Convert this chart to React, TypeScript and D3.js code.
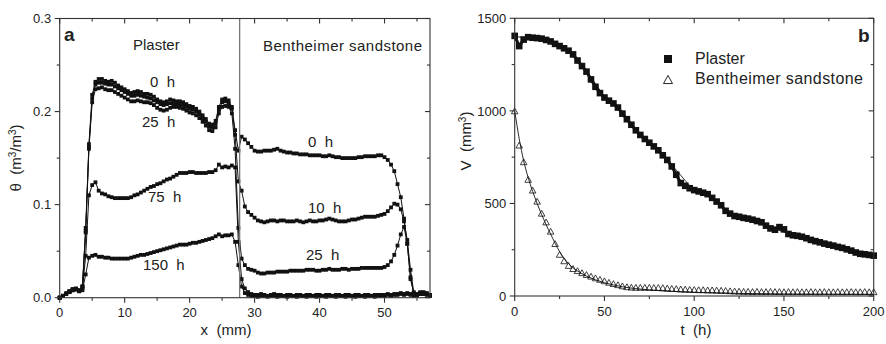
import React from 'react';
import * as d3 from 'd3';

// ---------- Panel a: moisture profiles θ(x) ----------
const X_MM = [
  0, 0.5, 1, 1.5, 2, 2.5, 3, 3.5, 4, 4.5,
  5, 5.5, 6, 6.5, 7, 7.5, 8, 8.5, 9, 9.5,
  10, 10.5, 11, 11.5, 12, 12.5, 13, 13.5, 14, 14.5,
  15, 15.5, 16, 16.5, 17, 17.5, 18, 18.5, 19, 19.5,
  20, 20.5, 21, 21.5, 22, 22.5, 23, 23.5, 24, 24.5,
  25, 25.5, 26, 26.5, 27, 27.5, 28, 28.5, 29, 29.5,
  30, 30.5, 31, 31.5, 32, 32.5, 33, 33.5, 34, 34.5,
  35, 35.5, 36, 36.5, 37, 37.5, 38, 38.5, 39, 39.5,
  40, 40.5, 41, 41.5, 42, 42.5, 43, 43.5, 44, 44.5,
  45, 45.5, 46, 46.5, 47, 47.5, 48, 48.5, 49, 49.5,
  50, 50.5, 51, 51.5, 52, 52.5, 53, 53.5, 54, 54.5,
  55, 55.5, 56, 56.5, 57,
];

const THETA_0H = [
  0.000, 0.002, 0.004, 0.006, 0.009, 0.009, 0.007, 0.012, 0.075, 0.165,
  0.218, 0.232, 0.235, 0.235, 0.233, 0.232, 0.233, 0.231, 0.228, 0.226,
  0.224, 0.222, 0.220, 0.221, 0.222, 0.221, 0.219, 0.219, 0.218, 0.216,
  0.213, 0.211, 0.210, 0.211, 0.213, 0.212, 0.211, 0.211, 0.210, 0.208,
  0.206, 0.205, 0.203, 0.200, 0.196, 0.192, 0.187, 0.186, 0.190, 0.205,
  0.213, 0.214, 0.212, 0.205, 0.180, 0.158, 0.173, 0.170, 0.166, 0.162,
  0.158, 0.157, 0.157, 0.158, 0.158, 0.158, 0.159, 0.160, 0.158, 0.157,
  0.156, 0.156, 0.155, 0.155, 0.154, 0.154, 0.154, 0.153, 0.153, 0.153,
  0.153, 0.152, 0.152, 0.153, 0.152, 0.151, 0.151, 0.150, 0.150, 0.150,
  0.150, 0.150, 0.151, 0.151, 0.152, 0.152, 0.152, 0.152, 0.153, 0.153,
  0.151, 0.148, 0.143, 0.136, 0.122, 0.108, 0.085, 0.058, 0.022, 0.004,
  0.003, 0.004, 0.005, 0.004, 0.002,
];

const THETA_10H = [
  0.000, 0.002, 0.004, 0.006, 0.008, 0.009, 0.008, 0.012, 0.072, 0.162,
  0.214, 0.229, 0.231, 0.231, 0.230, 0.229, 0.229, 0.227, 0.225, 0.223,
  0.221, 0.219, 0.217, 0.217, 0.218, 0.217, 0.216, 0.215, 0.214, 0.212,
  0.210, 0.208, 0.207, 0.208, 0.209, 0.209, 0.208, 0.208, 0.207, 0.205,
  0.203, 0.202, 0.200, 0.197, 0.193, 0.189, 0.184, 0.183, 0.187, 0.202,
  0.210, 0.211, 0.209, 0.203, 0.175, 0.125, 0.115, 0.098, 0.092, 0.089,
  0.086, 0.083, 0.082, 0.081, 0.082, 0.083, 0.083, 0.082, 0.083, 0.083,
  0.082, 0.082, 0.082, 0.083, 0.082, 0.081, 0.082, 0.083, 0.082, 0.082,
  0.083, 0.083, 0.084, 0.085, 0.084, 0.083, 0.082, 0.082, 0.082, 0.083,
  0.084, 0.084, 0.085, 0.086, 0.087, 0.087, 0.087, 0.087, 0.088, 0.089,
  0.090, 0.093, 0.097, 0.101, 0.100, 0.095, 0.082, 0.062, 0.030, 0.006,
  0.003, 0.004, 0.004, 0.005, 0.003,
];

const THETA_25H = [
  0.000, 0.002, 0.004, 0.007, 0.009, 0.009, 0.007, 0.012, 0.070, 0.160,
  0.210, 0.224, 0.225, 0.226, 0.224, 0.223, 0.223, 0.221, 0.219, 0.217,
  0.215, 0.213, 0.211, 0.211, 0.212, 0.211, 0.210, 0.210, 0.209, 0.207,
  0.204, 0.202, 0.201, 0.202, 0.204, 0.205, 0.205, 0.204, 0.203, 0.201,
  0.199, 0.198, 0.196, 0.193, 0.189, 0.185, 0.180, 0.179, 0.183, 0.198,
  0.205, 0.206, 0.205, 0.198, 0.160, 0.075, 0.042, 0.035, 0.031, 0.030,
  0.029, 0.027, 0.026, 0.026, 0.027, 0.027, 0.027, 0.028, 0.028, 0.028,
  0.028, 0.029, 0.029, 0.029, 0.029, 0.029, 0.030, 0.030, 0.030, 0.029,
  0.029, 0.030, 0.030, 0.031, 0.030, 0.030, 0.030, 0.031, 0.031, 0.030,
  0.031, 0.031, 0.031, 0.032, 0.032, 0.032, 0.032, 0.032, 0.032, 0.032,
  0.033, 0.035, 0.039, 0.046, 0.056, 0.068, 0.076, 0.058, 0.020, 0.005,
  0.004, 0.005, 0.006, 0.004, 0.003,
];

const THETA_75H = [
  0.000, 0.002, 0.005, 0.007, 0.009, 0.010, 0.008, 0.010, 0.045, 0.110,
  0.121, 0.124, 0.115, 0.112, 0.111, 0.109, 0.108, 0.107, 0.107, 0.107,
  0.107, 0.107, 0.108, 0.110, 0.111, 0.113, 0.115, 0.117, 0.119, 0.120,
  0.122, 0.123, 0.125, 0.127, 0.128, 0.130, 0.132, 0.134, 0.134, 0.134,
  0.135, 0.135, 0.134, 0.134, 0.134, 0.134, 0.135, 0.135, 0.137, 0.143,
  0.140, 0.141, 0.140, 0.142, 0.140, 0.060, 0.020, 0.010, 0.006, 0.004,
  0.003, 0.003, 0.004, 0.003, 0.002, 0.003, 0.004, 0.003, 0.003, 0.002,
  0.003, 0.003, 0.002, 0.003, 0.003, 0.002, 0.003, 0.003, 0.002, 0.003,
  0.003, 0.002, 0.003, 0.003, 0.002, 0.003, 0.003, 0.002, 0.003, 0.003,
  0.002, 0.003, 0.003, 0.002, 0.003, 0.003, 0.002, 0.003, 0.003, 0.003,
  0.003, 0.004, 0.003, 0.004, 0.004, 0.005, 0.004, 0.005, 0.004, 0.003,
  0.004, 0.006, 0.005, 0.004, 0.002,
];

const THETA_150H = [
  0.000, 0.002, 0.004, 0.006, 0.008, 0.009, 0.007, 0.008, 0.025, 0.043,
  0.045, 0.046, 0.044, 0.044, 0.043, 0.043, 0.042, 0.042, 0.042, 0.042,
  0.042, 0.042, 0.043, 0.044, 0.045, 0.046, 0.046, 0.047, 0.048, 0.049,
  0.050, 0.051, 0.052, 0.053, 0.054, 0.055, 0.056, 0.057, 0.057, 0.057,
  0.058, 0.059, 0.059, 0.060, 0.061, 0.062, 0.063, 0.064, 0.066, 0.068,
  0.066, 0.067, 0.067, 0.068, 0.060, 0.035, 0.012, 0.005, 0.003, 0.002,
  0.002, 0.001, 0.002, 0.002, 0.001, 0.002, 0.002, 0.001, 0.002, 0.002,
  0.001, 0.002, 0.002, 0.001, 0.002, 0.002, 0.001, 0.002, 0.002, 0.001,
  0.002, 0.002, 0.001, 0.002, 0.002, 0.001, 0.002, 0.002, 0.001, 0.002,
  0.002, 0.001, 0.002, 0.002, 0.001, 0.002, 0.002, 0.001, 0.002, 0.002,
  0.002, 0.003, 0.002, 0.003, 0.003, 0.004, 0.003, 0.004, 0.003, 0.002,
  0.003, 0.005, 0.004, 0.003, 0.002,
];

const PROFILES = [THETA_0H, THETA_10H, THETA_25H, THETA_75H, THETA_150H];
const INTERFACE_MM = 27.7;

const LEFT_X_TICKS = [0, 10, 20, 30, 40, 50];
const LEFT_X_MINOR = [5, 15, 25, 35, 45, 55];
const LEFT_Y_TICKS = [0, 0.1, 0.2, 0.3];
const LEFT_Y_LABELS = ['0.0', '0.1', '0.2', '0.3'];
const LEFT_Y_MINOR = [0.05, 0.15, 0.25];

const PROFILE_LABELS = ['0  h', '25  h', '75  h', '150  h', '0  h', '10  h', '25  h'];

// ---------- Panel b: volume V(t) ----------
const T_H = [
  0, 2.5, 5, 7.5, 10, 12.5, 15, 17.5, 20, 22.5,
  25, 27.5, 30, 32.5, 35, 37.5, 40, 42.5, 45, 47.5,
  50, 52.5, 55, 57.5, 60, 62.5, 65, 67.5, 70, 72.5,
  75, 77.5, 80, 82.5, 85, 87.5, 90, 92.5, 95, 97.5,
  100, 102.5, 105, 107.5, 110, 112.5, 115, 117.5, 120, 122.5,
  125, 127.5, 130, 132.5, 135, 137.5, 140, 142.5, 145, 147.5,
  150, 152.5, 155, 157.5, 160, 162.5, 165, 167.5, 170, 172.5,
  175, 177.5, 180, 182.5, 185, 187.5, 190, 192.5, 195, 197.5,
  200,
];

const V_PLASTER = [
  1405, 1350, 1385, 1398, 1395, 1393, 1390, 1383, 1375, 1362,
  1350, 1338, 1325, 1305, 1272, 1242, 1212, 1170, 1130, 1096,
  1072, 1055, 1040, 1018, 985, 955, 925, 895, 870, 848,
  828, 808, 787, 760, 735, 700, 655, 610, 595, 582,
  572, 565, 558, 550, 530, 510, 490, 460, 445, 432,
  428, 422, 418, 412, 405, 398, 380, 365, 358, 372,
  360, 335, 328, 325, 320, 312, 303, 296, 290, 283,
  277, 272, 265, 260, 252, 245, 235, 228, 225, 222,
  218,
];

const V_SAND = [
  1000, 815, 725, 630, 572, 512, 447, 400, 350, 283,
  225, 190, 165, 148, 137, 126, 116, 107, 98, 90,
  82, 74, 67, 61, 55, 50, 48, 47, 47, 47,
  47, 46, 46, 45, 43, 41, 40, 38, 37, 36,
  35, 34, 34, 33, 33, 32, 31, 30, 28, 27,
  26, 25, 25, 24, 25, 24, 24, 25, 24, 24,
  23, 24, 23, 24, 23, 23, 24, 23, 23, 24,
  23, 23, 24, 23, 23, 24, 23, 23, 24, 23,
  23,
];

const SAND_FIT_T = [0, 2.5, 5, 7.5, 10, 12.5, 15, 17.5, 20, 22.5, 25, 30, 35, 40, 50, 60, 75, 100, 125, 150, 175, 200];
const SAND_FIT_V = [1000, 850, 730, 640, 565, 500, 440, 385, 335, 285, 240, 175, 135, 108, 72, 50, 33, 20, 14, 11, 10, 9];

const PLASTER_FIT_T = [0, 10, 20, 30, 40, 50, 60, 70, 80, 90, 100, 110, 120, 130, 140, 150, 160, 170, 180, 190, 200];
const PLASTER_FIT_V = [1400, 1395, 1375, 1325, 1215, 1080, 985, 870, 790, 680, 575, 535, 445, 418, 385, 345, 320, 290, 265, 238, 220];

const RIGHT_X_TICKS = [0, 50, 100, 150, 200];
const RIGHT_X_MINOR = [25, 75, 125, 175];
const RIGHT_Y_TICKS = [0, 500, 1000, 1500];
const RIGHT_Y_MINOR = [250, 750, 1250];

const FONT = 'Liberation Sans, Arial, Helvetica, sans-serif';
const TXT = '#222';
const AX = '#333';

type Lin = d3.ScaleLinear<number, number>;

function Frame(props: {
  x: Lin; y: Lin; xt: number[]; xm: number[]; yt: number[]; ym: number[]; yl: string[];
}) {
  const { x, y, xt, xm, yt, ym, yl } = props;
  const [x0, x1] = x.range();
  const [y0, y1] = y.range();
  const MAJ = 5, MIN = 3;
  return (
    <g stroke={AX} strokeWidth={1.1} fill="none">
      <rect x={x0} y={y1} width={x1 - x0} height={y0 - y1} />
      {xt.map((v) => (
        <g key={'xt' + v}>
          <line x1={x(v)} x2={x(v)} y1={y0} y2={y0 + MAJ} />
          <line x1={x(v)} x2={x(v)} y1={y1} y2={y1 + MAJ} />
          <text x={x(v)} y={y0 + 19.5} textAnchor="middle" stroke="none" fill={TXT}
            fontSize={13} fontFamily={FONT}>{String(v)}</text>
        </g>
      ))}
      {xm.map((v) => (
        <g key={'xm' + v}>
          <line x1={x(v)} x2={x(v)} y1={y0} y2={y0 + MIN} />
          <line x1={x(v)} x2={x(v)} y1={y1} y2={y1 + MIN} />
        </g>
      ))}
      {yt.map((v, i) => (
        <g key={'yt' + v}>
          <line x1={x0} x2={x0 - MAJ} y1={y(v)} y2={y(v)} />
          <line x1={x1} x2={x1 - MAJ} y1={y(v)} y2={y(v)} />
          <text x={x0 - 8.5} y={y(v)} dy="0.36em" textAnchor="end" stroke="none" fill={TXT}
            fontSize={13} fontFamily={FONT}>{yl[i]}</text>
        </g>
      ))}
      {ym.map((v) => (
        <g key={'ym' + v}>
          <line x1={x0} x2={x0 - MIN} y1={y(v)} y2={y(v)} />
          <line x1={x1} x2={x1 - MIN} y1={y(v)} y2={y(v)} />
        </g>
      ))}
    </g>
  );
}

export default function App() {
  const xL = d3.scaleLinear().domain([0, 57]).range([59.7, 430]);
  const yL = d3.scaleLinear().domain([0, 0.3]).range([297.7, 18.5]);
  const xR = d3.scaleLinear().domain([0, 200]).range([514.7, 873.7]);
  const yR = d3.scaleLinear().domain([0, 1500]).range([296, 18.3]);

  const profLine = d3.line<number>().x((_, i) => xL(X_MM[i])).y((d) => yL(d));
  const vLine = (ts: number[]) => d3.line<number>().x((_, i) => xR(ts[i])).y((d) => yR(d));

  const SQ = 3.8;
  const SQR = 6.6;
  const TRI = 6.5;
  const tri = (cx: number, cy: number, s: number) => {
    const h = s * 0.9;
    return `M${cx},${cy - h / 2}L${cx + s / 2},${cy + h / 2}L${cx - s / 2},${cy + h / 2}Z`;
  };

  const labelPos: [number, number][] = [
    [150, 87], [142, 127], [148, 202], [143, 270], [308, 147], [308, 213], [306, 260],
  ];

  return (
    <div style={{ position: 'fixed', left: 0, top: 0 }}>
      <svg width={886} height={344} style={{ display: 'block', background: '#fff' }}>
        {/* ===== Panel a ===== */}
        <g>
          {PROFILES.map((p, k) => (
            <path key={'pl' + k} d={profLine(p) || ''} fill="none" stroke="#111" strokeWidth={1} />
          ))}
          {PROFILES.map((p, k) => (
            <g key={'pm' + k} fill="#111">
              {p.map((v, i) => (
                <rect key={i} x={xL(X_MM[i]) - SQ / 2} y={yL(v) - SQ / 2} width={SQ} height={SQ} />
              ))}
            </g>
          ))}
          <line x1={xL(INTERFACE_MM)} x2={xL(INTERFACE_MM)} y1={yL(0)} y2={yL(0.3)}
            stroke="#777" strokeWidth={1.3} />
          <Frame x={xL} y={yL} xt={LEFT_X_TICKS} xm={LEFT_X_MINOR} yt={LEFT_Y_TICKS}
            ym={LEFT_Y_MINOR} yl={LEFT_Y_LABELS} />
          <g fontFamily={FONT} fill={TXT}>
            <text x={64} y={41} fontSize={19} fontWeight="bold">a</text>
            <text x={133} y={50} fontSize={15}>Plaster</text>
            <text x={263} y={51} fontSize={15} textLength={159} lengthAdjust="spacing">Bentheimer sandstone</text>
            {PROFILE_LABELS.map((s, i) => (
              <text key={'lab' + i} x={labelPos[i][0]} y={labelPos[i][1]} fontSize={15}
                style={{ whiteSpace: 'pre' }}>{s}</text>
            ))}
            <text x={226} y={335} fontSize={15} textAnchor="middle" style={{ whiteSpace: 'pre' }}>x  (mm)</text>
            <text transform="translate(21,158) rotate(-90)" fontSize={15} textAnchor="middle"
              style={{ whiteSpace: 'pre' }}>
              θ  (m<tspan dy={-5} fontSize={10}>3</tspan><tspan dy={5}>/m</tspan><tspan dy={-5} fontSize={10}>3</tspan><tspan dy={5}>)</tspan>
            </text>
          </g>
        </g>

        {/* ===== Panel b ===== */}
        <g>
          <path d={vLine(SAND_FIT_T).curve(d3.curveMonotoneX)(SAND_FIT_V) || ''} fill="none" stroke="#111" strokeWidth={0.9} />
          <path d={vLine(PLASTER_FIT_T).curve(d3.curveMonotoneX)(PLASTER_FIT_V) || ''} fill="none" stroke="#111" strokeWidth={0.9} />
          <path d={vLine(T_H)(V_PLASTER) || ''} fill="none" stroke="#111" strokeWidth={3} />
          <g fill="#111">
            {V_PLASTER.map((v, i) => (
              <rect key={'vp' + i} x={xR(T_H[i]) - SQR / 2} y={yR(v) - SQR / 2} width={SQR} height={SQR} />
            ))}
          </g>
          <g fill="none" stroke="#111" strokeWidth={0.8}>
            {V_SAND.map((v, i) => (
              <path key={'vs' + i} d={tri(xR(T_H[i]), yR(v), TRI)} />
            ))}
          </g>
          <Frame x={xR} y={yR} xt={RIGHT_X_TICKS} xm={RIGHT_X_MINOR} yt={RIGHT_Y_TICKS}
            ym={RIGHT_Y_MINOR} yl={RIGHT_Y_TICKS.map(String)} />
          <g fontFamily={FONT} fill={TXT}>
            <text x={858} y={42} fontSize={19} fontWeight="bold">b</text>
            <rect x={664} y={55} width={8} height={8} fill="#111" />
            <text x={695} y={64} fontSize={16}>Plaster</text>
            <path d={tri(668, 79.5, 9)} fill="none" stroke="#111" strokeWidth={0.9} />
            <text x={695} y={84} fontSize={16} textLength={168} lengthAdjust="spacing">Bentheimer sandstone</text>
            <text x={696} y={335} fontSize={15} textAnchor="middle" style={{ whiteSpace: 'pre' }}>t  (h)</text>
            <text transform="translate(471,141) rotate(-90)" fontSize={15} textAnchor="middle"
              style={{ whiteSpace: 'pre' }}>
              V  (mm<tspan dy={-5} fontSize={10}>3</tspan><tspan dy={5}>)</tspan>
            </text>
          </g>
        </g>
      </svg>
    </div>
  );
}
